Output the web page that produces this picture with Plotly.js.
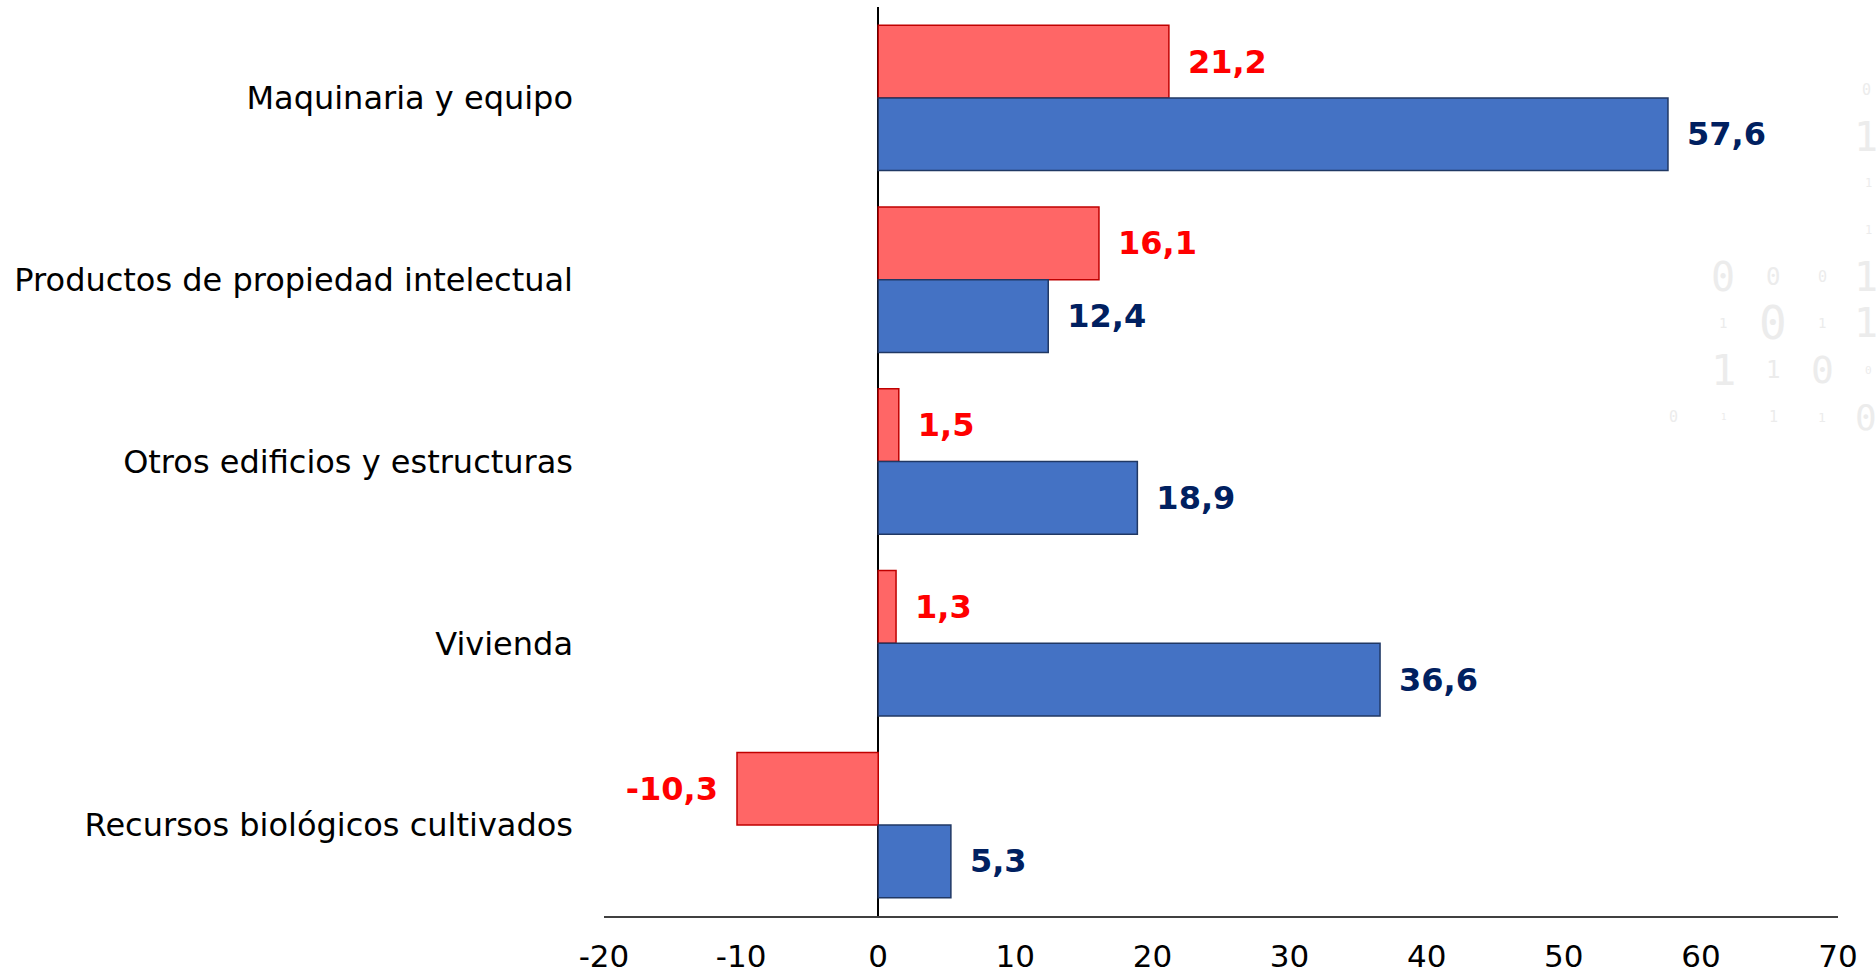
<!DOCTYPE html>
<html>
<head>
<meta charset="utf-8">
<script src="https://cdn.plot.ly/plotly-3.0.1.min.js"></script>
<style>html,body{margin:0;padding:0;background:#fff;}#chart{width:1876px;height:973px;}</style>
</head>
<body>
<div id="chart"></div>
<script>
const categories = ["Maquinaria y equipo", "Productos de propiedad intelectual", "Otros edificios y estructuras", "Vivienda", "Recursos biológicos cultivados"];
const seriesRed = [21.2, 16.1, 1.5, 1.3, -10.3];
const seriesBlue = [57.6, 12.4, 18.9, 36.6, 5.3];
const xTicks = [-20, -10, 0, 10, 20, 30, 40, 50, 60, 70];

const fmt = v => {
  const s = v.toFixed(1).replace('.', ',');
  return v < 0 ? s + '\u2002' : '\u2002' + s;
};

const traceRed = {
  type: 'bar', orientation: 'h', y: categories, x: seriesRed,
  name: 'Serie 1',
  marker: {color: '#FF6666', line: {color: '#C00000', width: 1.5}},
  text: seriesRed.map(fmt), textposition: 'outside', cliponaxis: false, constraintext: 'none',
  textfont: {family: 'DejaVu Sans', size: 32, color: '#FF0000', weight: 'bold'},
  hoverinfo: 'x+y'
};
const traceBlue = {
  type: 'bar', orientation: 'h', y: categories, x: seriesBlue,
  name: 'Serie 2',
  marker: {color: '#4472C4', line: {color: '#203864', width: 1.5}},
  text: seriesBlue.map(fmt), textposition: 'outside', cliponaxis: false, constraintext: 'none',
  textfont: {family: 'DejaVu Sans', size: 32, color: '#002060', weight: 'bold'},
  hoverinfo: 'x+y'
};

// decorative faint binary watermark (paper coords)
const wmChars = ['0','1','1','1','0','0','0','1','1','0','1','1','1','1','0','0','0','1','1','1','0'];
const wmX = [1866,1866,1868,1868,1723,1773,1822,1866,1723,1773,1822,1866,1723,1773,1822,1868,1673,1723,1773,1822,1866];
const wmY = [90,137,183,230,277,277,277,277,323,323,323,323,370,370,370,370,417,417,417,417,417];
const wmS = [15,40,12,12,40,24,15,40,14,46,14,40,42,24,38,11,15,9,15,13,36];
const annotations = wmChars.map((c, i) => ({
  xref: 'paper', yref: 'paper',
  x: (wmX[i] - 604) / (1838 - 604), y: 1 - (wmY[i] - 7) / (916 - 7),
  text: c, showarrow: false,
  font: {family: 'DejaVu Sans Mono', size: wmS[i], color: '#ececec'},
  xanchor: 'center', yanchor: 'middle'
}));

const layout = {
  width: 1876, height: 973,
  margin: {l: 604, r: 38, t: 7, b: 57},
  paper_bgcolor: '#ffffff', plot_bgcolor: 'rgba(0,0,0,0)',
  barmode: 'group', bargap: 0.2, bargroupgap: 0,
  showlegend: false,
  separators: ',.',
  font: {family: 'DejaVu Sans', color: '#000000'},
  xaxis: {
    range: [-20, 70], tickvals: xTicks, ticktext: xTicks.map(String),
    showgrid: false, zeroline: true, zerolinecolor: '#000000', zerolinewidth: 1.5,
    showline: true, linecolor: '#404040', linewidth: 1.5,
    ticks: '', tickfont: {family: 'DejaVu Sans', size: 31, color: '#000000'},
    ticklabelstandoff: 12, fixedrange: true
  },
  yaxis: {
    type: 'category', categoryorder: 'array', categoryarray: categories,
    autorange: 'reversed', showgrid: false, zeroline: false, showline: false,
    ticks: '', tickfont: {family: 'DejaVu Sans', size: 32, color: '#000000'},
    ticklabelstandoff: 30, fixedrange: true
  },
  annotations: annotations
};

Plotly.newPlot('chart', [traceRed, traceBlue], layout, {displayModeBar: false, staticPlot: true});
</script>
</body>
</html>
